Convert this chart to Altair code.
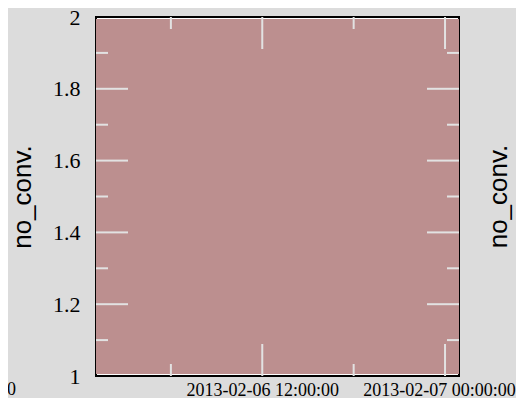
import altair as alt
import pandas as pd

# ---- data ----
band_start = ["2013-02-06T01:05:00"]
band_end = ["2013-02-07T00:55:00"]
band_min = [1]
band_max = [2]

y_major = [1.2, 1.4, 1.6, 1.8]
y_minor = [1.1, 1.3, 1.5, 1.7, 1.9]
x_major = ["2013-02-06T12:00:00", "2013-02-07T00:00:00"]
x_minor = ["2013-02-06T06:00:00", "2013-02-06T18:00:00"]
y_label_values = [1, 1.2, 1.4, 1.6, 1.8, 2]

W, H = 363, 359
BG = "#dcdcdc"
FILL = "#bc8f8f"
TICK = "#e2e2e2"

x_scale = alt.Scale(domain=[alt.DateTime(year=2013, month=2, date=6, hours=1, minutes=5),
                            alt.DateTime(year=2013, month=2, date=7, hours=0, minutes=55)],
                    nice=False)
y_scale = alt.Scale(domain=[1, 2], nice=False, zero=False)

x_axis = alt.Axis(values=[alt.DateTime(year=2013, month=2, date=6, hours=12),
                          alt.DateTime(year=2013, month=2, date=7, hours=0)],
                  format="%Y-%m-%d %H:%M:%S", title=None, ticks=False, tickSize=0,
                  domain=False, grid=False, labelFont="Liberation Serif",
                  labelFontSize=18, labelColor="black", labelPadding=5,
                  labelOffset={"condition": {"test": "datum.value > datetime(2013, 1, 6, 20)",
                                             "value": -6}, "value": 0},
                  labelFlush=False, labelOverlap=False, labelBound=False)
y_axis = alt.Axis(values=y_label_values, format="~g", title="no_conv.", ticks=False,
                  tickSize=0, domain=False, grid=False, labelFont="Liberation Serif",
                  labelFontSize=22, labelColor="black", labelPadding=16,
                  titleFont="Liberation Sans", titleFontSize=26,
                  titleFontWeight="normal", titleColor="black", titlePadding=17)

band = pd.DataFrame({"start": band_start, "end": band_end, "lo": band_min, "hi": band_max})

base = alt.Chart(band).mark_rect(color=FILL, yOffset=2, y2Offset=-2).encode(
    x=alt.X("start:T", scale=x_scale, axis=x_axis),
    x2="end:T",
    y=alt.Y("hi:Q", scale=y_scale, axis=y_axis),
    y2="lo:Q",
)

def yticks(vals, length):
    d = pd.DataFrame({"hi": vals})
    left = alt.Chart(d).mark_rule(color=TICK, strokeWidth=2).encode(
        y=alt.Y("hi:Q", scale=y_scale, axis=y_axis), x=alt.value(0), x2=alt.value(length))
    right = alt.Chart(d).mark_rule(color=TICK, strokeWidth=2).encode(
        y=alt.Y("hi:Q", scale=y_scale, axis=y_axis), x=alt.value(W - length), x2=alt.value(W))
    return [left, right]

def xticks(vals, length):
    d = pd.DataFrame({"start": vals})
    bottom = alt.Chart(d).mark_rule(color=TICK, strokeWidth=2).encode(
        x=alt.X("start:T", scale=x_scale, axis=x_axis), y=alt.value(H), y2=alt.value(H - length))
    top = alt.Chart(d).mark_rule(color=TICK, strokeWidth=2).encode(
        x=alt.X("start:T", scale=x_scale, axis=x_axis), y=alt.value(0), y2=alt.value(length))
    return [bottom, top]

one = pd.DataFrame({"k": [0]})
right_title = alt.Chart(one).mark_text(
    text="no_conv.", angle=270, font="Liberation Sans", fontSize=26, color="black",
    align="center", baseline="alphabetic").encode(x=alt.value(411), y=alt.value(H / 2))
left_frag = alt.Chart(one).mark_text(
    text="2013-02-07 00:00:00", font="Liberation Serif", fontSize=18, color="black",
    align="right", baseline="top").encode(x=alt.value(-80), y=alt.value(H + 5))

layers = [base] + yticks(y_major, 32) + yticks(y_minor, 12) + xticks(x_major, 32) + \
    xticks(x_minor, 12) + [right_title, left_frag]

chart = alt.layer(*layers).properties(
    width=W, height=H,
    autosize=alt.AutoSizeParams(type="none"),
    padding={"left": 88, "top": 9, "right": 57, "bottom": 22},
    background=BG,
).configure_view(fill="white", stroke="black", strokeWidth=2)

chart.save("out.html", embed_options={"renderer": "svg", "actions": False})
